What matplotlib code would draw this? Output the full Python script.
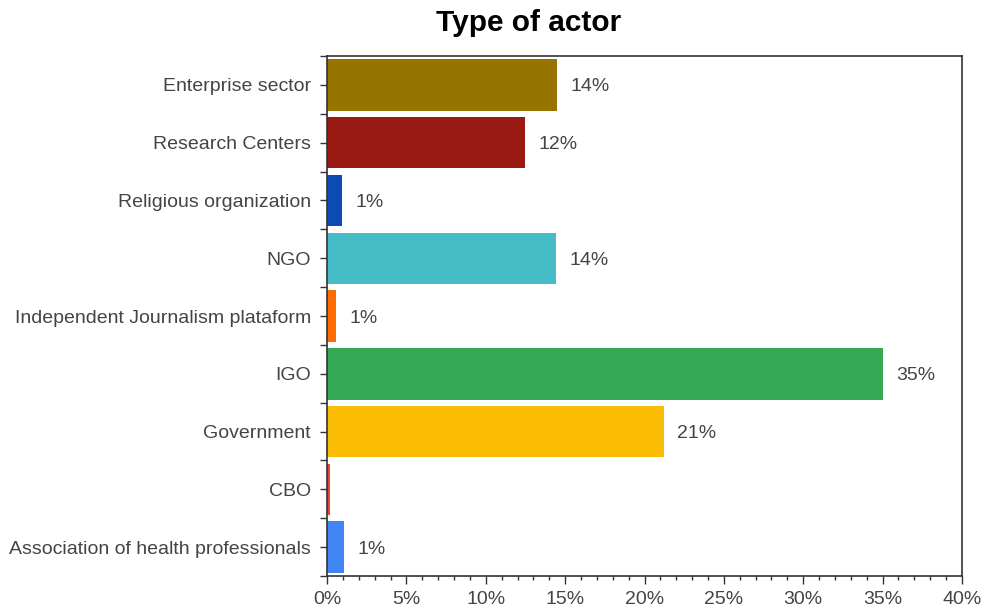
import matplotlib.pyplot as plt
from matplotlib.ticker import MultipleLocator, FuncFormatter
import numpy as np

plt.rcParams['font.family'] = ['Liberation Sans', 'DejaVu Sans']

# categories listed top to bottom
actors = ["Enterprise sector", "Research Centers", "Religious organization", "NGO",
          "Independent Journalism plataform", "IGO", "Government", "CBO",
          "Association of health professionals"]
shares = [14.5, 12.5, 0.94, 14.4, 0.57, 35.0, 21.2, 0.2, 1.07]
labels = ["14%", "12%", "1%", "14%", "1%", "35%", "21%", "", "1%"]
colors = ["#977300", "#991a12", "#0b4bb3", "#46bdc6", "#ff6d01",
          "#34a853", "#fbbc04", "#ea4335", "#4285f4"]

fig = plt.figure(figsize=(9.83, 6.08), dpi=100)
ax = fig.add_axes([0.3327, 0.0526, 0.9786 - 0.3327, 0.9079 - 0.0526])

y = np.arange(len(actors))[::-1]
ax.barh(y, shares, height=0.89, color=colors, zorder=2)

for yi, v, lab in zip(y, shares, labels):
    if lab:
        ax.text(v + 0.85, yi, lab, va="center_baseline", ha="left", fontsize=14, color="#444444")

ax.set_xlim(0, 40)
ax.set_ylim(-0.5, len(actors) - 0.5)
ax.set_yticks(y)
ax.set_yticklabels(actors)
ax.set_yticks(np.arange(-0.5, len(actors)), minor=True)

ax.xaxis.set_major_locator(MultipleLocator(5))
ax.xaxis.set_minor_locator(MultipleLocator(1))
ax.xaxis.set_major_formatter(FuncFormatter(lambda v, p: f"{v:.0f}%"))

ax.tick_params(axis="both", which="both", colors="#333333", labelcolor="#444444", labelsize=14)
ax.tick_params(axis="y", which="major", length=5, width=1, pad=6.5)
ax.tick_params(axis="y", which="minor", length=5, width=1)
ax.tick_params(axis="x", which="major", length=6, width=1, pad=5)
ax.tick_params(axis="x", which="minor", length=3, width=1)

for spine in ax.spines.values():
    spine.set_color("#333333")
    spine.set_linewidth(1.2)

fig.text(529 / 983, 1 - 23 / 608, "Type of actor", ha="center", va="center",
         fontsize=21.5, fontweight="bold", color="black")

fig.savefig("out.png", dpi=100)
